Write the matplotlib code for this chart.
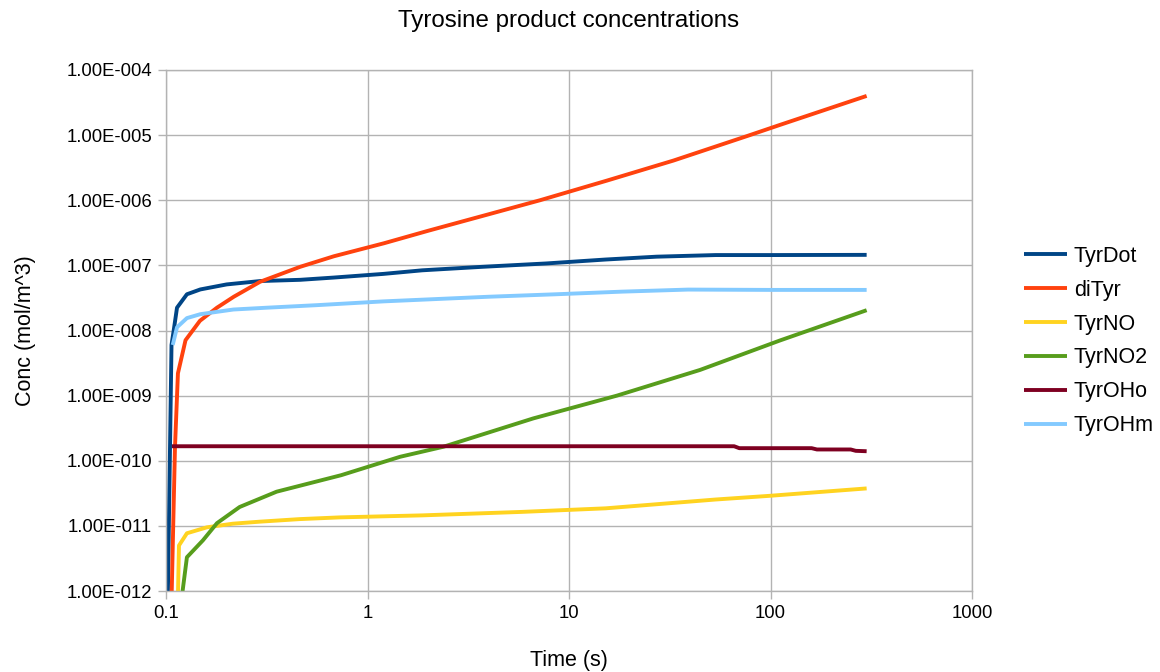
import numpy as np
import matplotlib.pyplot as plt
from matplotlib.ticker import FixedLocator, FixedFormatter, NullLocator

plt.rcParams['font.family'] = ['Liberation Sans', 'DejaVu Sans']

# Time points (s) and concentrations (mol/m^3) for each product
t_dot = [0.1, 0.1065, 0.1092, 0.1134, 0.127, 0.148, 0.2, 0.294, 0.463, 0.68, 1.2, 1.87, 3.7, 7.7, 15.2, 27.2, 53.4, 100, 300]
c_dot = [1e-14, 6e-9, 1.0e-8, 2.24e-8, 3.6e-8, 4.27e-8, 5.1e-8, 5.75e-8, 6.0e-8, 6.5e-8, 7.4e-8, 8.4e-8, 9.5e-8, 1.07e-7, 1.23e-7, 1.36e-7, 1.44e-7, 1.44e-7, 1.45e-7]

t_di = [0.105, 0.1108, 0.1146, 0.125, 0.1474, 0.179, 0.217, 0.293, 0.463, 0.681, 1.21, 2.0, 4.0, 7.18, 15.4, 33, 76.3, 111, 300]
c_di = [1e-13, 1.6e-10, 2.2e-9, 7.1e-9, 1.41e-8, 2.24e-8, 3.3e-8, 5.6e-8, 9.5e-8, 1.38e-7, 2.19e-7, 3.4e-7, 6.1e-7, 1.0e-6, 2.0e-6, 4.07e-6, 9.65e-6, 1.43e-5, 4.0e-5]

t_no = [0.113, 0.116, 0.127, 0.1596, 0.2145, 0.292, 0.46, 0.727, 1.87, 5.85, 15.2, 53.4, 100, 300]
c_no = [1e-13, 5.0e-12, 7.7e-12, 9.5e-12, 1.08e-11, 1.16e-11, 1.27e-11, 1.35e-11, 1.45e-11, 1.64e-11, 1.86e-11, 2.54e-11, 2.9e-11, 3.76e-11]

t_no2 = [0.115, 0.127, 0.1525, 0.179, 0.232, 0.354, 0.74, 1.45, 2.38, 6.65, 17.3, 44.7, 111, 300]
c_no2 = [3e-13, 3.3e-12, 6.0e-12, 1.1e-11, 1.95e-11, 3.35e-11, 6.0e-11, 1.15e-10, 1.64e-10, 4.47e-10, 1.0e-9, 2.48e-9, 7.0e-9, 2.05e-8]

t_oho = [0.107, 1.0, 10, 66, 70, 160, 170, 250, 265, 300]
c_oho = [1.67e-10, 1.67e-10, 1.67e-10, 1.67e-10, 1.56e-10, 1.56e-10, 1.49e-10, 1.49e-10, 1.42e-10, 1.40e-10]

t_ohm = [0.108, 0.1134, 0.127, 0.148, 0.216, 0.317, 0.561, 1.2, 4.0, 8.6, 18.3, 39, 100, 300]
c_ohm = [6e-9, 1.12e-8, 1.55e-8, 1.78e-8, 2.1e-8, 2.24e-8, 2.45e-8, 2.8e-8, 3.3e-8, 3.6e-8, 3.95e-8, 4.25e-8, 4.2e-8, 4.2e-8]

x_ticks = [0.1, 1, 10, 100, 1000]
x_tick_labels = ['0.1', '1', '10', '100', '1000']
y_ticks = [1e-12, 1e-11, 1e-10, 1e-9, 1e-8, 1e-7, 1e-6, 1e-5, 1e-4]
y_tick_labels = ['1.00E-012', '1.00E-011', '1.00E-010', '1.00E-009', '1.00E-008',
                 '1.00E-007', '1.00E-006', '1.00E-005', '1.00E-004']

series = [
    ('TyrDot', t_dot, c_dot, '#004586'),
    ('diTyr', t_di, c_di, '#ff420e'),
    ('TyrNO', t_no, c_no, '#ffd320'),
    ('TyrNO2', t_no2, c_no2, '#579d1c'),
    ('TyrOHo', t_oho, c_oho, '#7e0021'),
    ('TyrOHm', t_ohm, c_ohm, '#83caff'),
]

fig = plt.figure(figsize=(11.6, 6.72), dpi=100)
ax = fig.add_axes([166 / 1160, 1 - 591 / 672, (972 - 166) / 1160, (591 - 70) / 672])

for name, t, c, col in series:
    ax.plot(t, c, color=col, lw=2.8, label=name, solid_capstyle='butt')

ax.set_xscale('log')
ax.set_yscale('log')
ax.set_xlim(0.1, 1000)
ax.set_ylim(1e-12, 1e-4)

ax.xaxis.set_major_locator(FixedLocator(x_ticks))
ax.xaxis.set_major_formatter(FixedFormatter(x_tick_labels))
ax.xaxis.set_minor_locator(NullLocator())
ax.yaxis.set_major_locator(FixedLocator(y_ticks))
ax.yaxis.set_major_formatter(FixedFormatter(y_tick_labels))
ax.yaxis.set_minor_locator(NullLocator())

grid_col = '#b3b3b3'
ax.grid(True, color=grid_col, lw=1.0)
ax.set_axisbelow(True)
for sp in ax.spines.values():
    sp.set_color(grid_col)
    sp.set_linewidth(1.0)
ax.tick_params(axis='both', length=6, width=1.0, color=grid_col, labelsize=13.3, pad=4)

ax.set_title('Tyrosine product concentrations', fontsize=17.4, pad=31)
ax.set_xlabel('Time (s)', fontsize=15.5, labelpad=20)
ax.set_ylabel('Conc (mol/m^3)', fontsize=15.5, labelpad=22)

fig.legend(loc='center left', bbox_to_anchor=(1005 / 1160, 1 - 341 / 672), frameon=False,
           fontsize=15.5, handlelength=2.0, handletextpad=0.3, labelspacing=0.6)

fig.savefig('out.png', dpi=100)
plt.close(fig)
